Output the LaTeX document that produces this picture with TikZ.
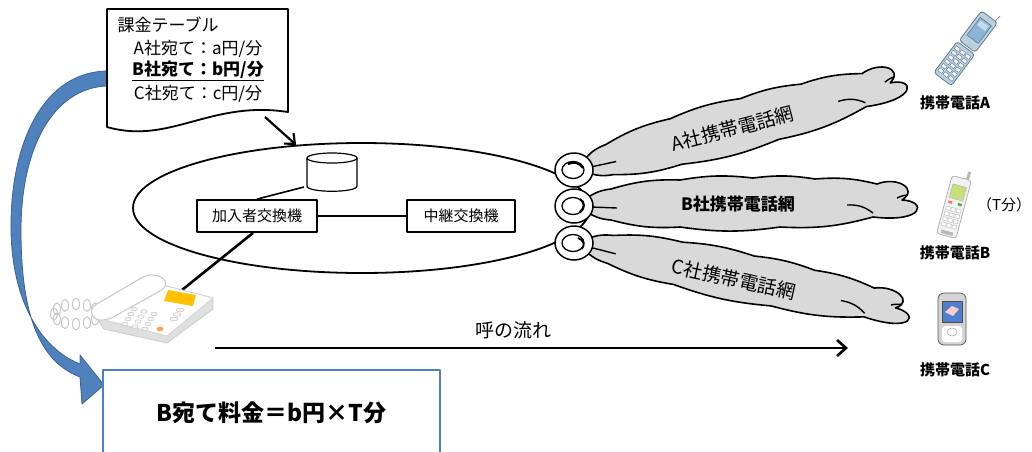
\documentclass[tikz,border=0pt]{standalone}
\usepackage{fontspec}
\setmainfont{Noto Sans CJK JP}
\usetikzlibrary{arrows.meta,shapes.geometric,calc}
\newcommand\fsz[1]{\fontsize{#1}{#1}\selectfont}
\definecolor{cloudgray}{HTML}{D9D9D9}
\definecolor{officeblue}{HTML}{4F81BD}
\definecolor{officeblueedge}{HTML}{3A6496}
\definecolor{screenyellow}{HTML}{FFC000}
\definecolor{screengreen}{HTML}{C8E07C}
\definecolor{flipbody}{HTML}{BCCFDC}
\definecolor{flipedge}{HTML}{5E7A8C}
\definecolor{flipscreen}{HTML}{8DB3D8}
\definecolor{silver}{HTML}{D4D4D4}
\definecolor{nokiascreen}{HTML}{4F7FCF}

% outline of one carrier cloud, local frame: origin at the plug, axis along +x
\newcommand\cloudoutline{%
  (12,-8) to[bend left=14] (36,-17) to[bend left=9] (105,-26)
  to[bend left=8] (178,-28) to[bend left=8] (240,-27) to[bend left=9] (302,-22)
  .. controls (322,-30) and (344,-17) .. (327,-6)
  .. controls (352,-5) and (350,17) .. (298,11)
  to[bend left=9] (205,21) to[bend left=8] (105,21) to[bend left=9] (36,14)
  to[bend left=14] (12,6) -- cycle}
\newcommand\cloudinner{%
  (16,1) -- (42,2)
  (272,-1) to[bend left=20] (298,7)
  (322,-8) to[bend left=10] (333,-11)}

\begin{document}
\begin{tikzpicture}[x=1pt,y=-1pt,line join=round,
  box/.style={draw,line width=1.8pt,fill=white,minimum height=32pt,inner sep=0pt,font=\fsz{15}},
  cloudbody/.style={draw,line width=1.6pt,fill=cloudgray},
  cloudline/.style={line width=1.4pt},
  plug/.style={draw,line width=1.5pt,fill=white},
  plugcore/.style={draw,line width=1.3pt},
  mobilelabel/.style={font=\bfseries\fsz{15}},
  barb/.style={-{Straight Barb[length=8pt,width=14pt,line width=2.2pt]}}]

\useasboundingbox (0,0) rectangle (1032,451);
\clip (0,0) rectangle (1032,451);

% ---------- curved blue arrow from the tariff table to the charge box
\filldraw[fill=officeblue,draw=officeblueedge,line width=0.8pt]
  (107,71) .. controls (45,72) and (10,140) .. (11,230)
  .. controls (12,300) and (40,348) .. (80,364)
  -- (80,355) -- (104,385) -- (82,404) -- (80,377)
  .. controls (35,360) and (21,305) .. (21,230)
  .. controls (21,150) and (52,88) .. (107,86) -- cycle;

% ---------- tariff table (document shape)
\draw[line width=1.8pt,fill=white]
  (107,9) -- (288,9) -- (288,112) .. controls (210,100) and (170,145) .. (107,127) -- cycle;
\node[anchor=west,font=\fsz{17}] (title) at (114,25) {課金テーブル};
\node[font=\fsz{17}] (rateA) at (198,49) {A社宛て：a円/分};
\node[font=\bfseries\fsz{17}] (rateB) at (198,71) {\underline{B社宛て：b円/分}};
\node[font=\fsz{17}] (rateC) at (198,94) {C社宛て：c円/分};
\coordinate (tabletail) at (265,117);

% ---------- carrier network (ellipse) with switches
\node[ellipse,draw,line width=1.8pt,minimum width=457pt,minimum height=130pt,inner sep=0pt] (net) at (361.5,208) {};
\draw[line width=2.2pt,barb] (tabletail) -- (net.136);

% subscriber database
\draw[line width=1.2pt,fill=white] (307,158) -- (307,186) .. controls (307,193) and (357,193) .. (357,186) -- (357,158);
\draw[line width=1.2pt,fill=white] (332,158) ellipse [x radius=25, y radius=5];
\coordinate (db) at (304,187);

\node[box,minimum width=120pt] (sub) at (257,216) {加入者交換機};
\node[box,minimum width=108pt] (relay) at (461,216) {中継交換機};
\draw[line width=1.4pt] (sub) -- (relay);
\draw[line width=1.6pt] (db) -- (sub.north);
\coordinate (deskphone) at (182,290);
\draw[line width=2.6pt] ($(sub.south)+(-4,0)$) -- (deskphone);

% ---------- mobile carrier clouds
\begin{scope}[shift={(575,170)},rotate=14.4]
  \path[cloudbody] \cloudoutline;
  \draw[cloudline] \cloudinner;
  \node[font=\fsz{19},rotate=14.4] (netA) at (163,-1) {A社携帯電話網};
\end{scope}
\begin{scope}[shift={(575,206)}]
  \path[cloudbody] \cloudoutline;
  \draw[cloudline] \cloudinner;
  \node[font=\bfseries\fsz{17}] (netB) at (163,-2) {B社携帯電話網};
\end{scope}
\begin{scope}[shift={(575,243)},rotate=-12.4]
  \path[cloudbody,yscale=0.92] \cloudoutline;
  \draw[cloudline,yscale=0.92] \cloudinner;
  \node[font=\fsz{19},rotate=-12.4] (netC) at (163,1) {C社携帯電話網};
\end{scope}

% ---------- gateway plugs
\node[plug,ellipse,minimum width=38pt,minimum height=34pt,inner sep=0pt] (plugA) at (574,170) {};
\node[plug,ellipse,minimum width=38pt,minimum height=34pt,inner sep=0pt] (plugB) at (574,206) {};
\node[plug,ellipse,minimum width=38pt,minimum height=34pt,inner sep=0pt] (plugC) at (574,243) {};
\draw[plugcore] (573,170) ellipse [x radius=11, y radius=8.5];
\draw[plugcore] (573,206) ellipse [x radius=11, y radius=8.5];
\draw[plugcore] (573,243) ellipse [x radius=11, y radius=8.5];
\draw[line width=2.2pt] (568,164) .. controls (574,161) and (580,163) .. (583,168);
\draw[line width=2.2pt] (580,199) .. controls (585,202) and (585,208) .. (580,212);
\draw[line width=1.8pt] (578,238) .. controls (584,240) and (585,245) .. (582,249);

% ---------- call flow
\coordinate (flowstart) at (215,348);
\coordinate (flowend) at (848,348);
\draw[line width=2.6pt,-{Straight Barb[length=9pt,width=16pt,line width=2.6pt]}] (flowstart) -- (flowend);
\node[font=\fsz{19}] (flowlabel) at (513,330) {呼の流れ};

% ---------- charge result
\node[draw=officeblue,line width=1.5pt,fill=white,minimum width=337pt,minimum height=86pt,
      font=\bfseries\fsz{23}] (charge) at (271.5,413) {B宛て料金＝b円×T分};

% ---------- desk telephone
\begin{scope}[draw=gray!45,line width=1pt]
  \foreach \a in {0,30,...,330}
    \draw ({76+22*cos(\a)},{314+10*sin(\a)}) ellipse [x radius=3.5, y radius=6];
\end{scope}
\filldraw[fill=gray!25,draw=gray!40,line width=0.8pt]
  (97,318) -- (155,283) -- (213,298) -- (213,309) -- (167,343) -- (104,329) -- cycle;
\filldraw[fill=white,draw=gray!35,line width=0.8pt]
  (97,318) -- (155,283) -- (213,298) -- (167,336) -- cycle;
\filldraw[fill=white,draw=gray!45,line width=1pt,rounded corners=6pt]
  (94,320) -- (90,308) -- (148,274) -- (164,277) -- (167,287) -- (108,320) -- cycle;
\fill[screenyellow] (168,290) -- (196,295) -- (193,306) -- (164,301) -- cycle;
\foreach \r in {0,...,3}
  \foreach \c in {0,...,2}
    \filldraw[fill=gray!8,draw=gray!45,line width=0.5pt]
      ({134+\c*10-\r*3},{309+\c*2.5+\r*5}) ellipse [x radius=3.2, y radius=1.8];
\foreach \r in {0,...,2}
  \filldraw[fill=gray!8,draw=gray!45,line width=0.5pt]
    ({180-\r*3},{310+\r*4.5}) ellipse [x radius=4, y radius=1.8];
\fill[orange!70] (160,329) ellipse [x radius=3.5, y radius=2.3];

% ---------- handset A (flip phone)
\begin{scope}[shift={(966,48)},rotate=-37]
  \draw[flipedge,line width=0.6pt] (7,-38) -- (8,-46);
  \filldraw[fill=flipbody,draw=flipedge,line width=0.8pt,rounded corners=3pt] (-10,-39) rectangle (10,-2);
  \filldraw[fill=flipscreen,draw=flipedge,line width=0.6pt] (-7,-33) rectangle (7,-11);
  \fill[white,opacity=0.5] (-5,-31) rectangle (5,-25);
  \filldraw[fill=flipbody,draw=flipedge,line width=0.8pt,rounded corners=3pt] (-11,0) rectangle (11,39);
  \foreach \r in {0,...,5}
    \foreach \c in {-1,0,1}
      \filldraw[fill=white!85!flipbody,draw=flipedge,line width=0.4pt]
        ({\c*6.5-2.5},{4+\r*5.5}) rectangle ({\c*6.5+2.5},{7.5+\r*5.5});
\end{scope}
\node[mobilelabel] (lblA) at (955,103) {携帯電話A};

% ---------- handset B (bar phone)
\begin{scope}[shift={(954,207)},rotate=-15]
  \fill[gray!55] (4.5,-29) rectangle (7.5,-38);
  \filldraw[fill=gray!10,draw=gray!60,line width=0.8pt,rounded corners=3pt] (-10,-30) rectangle (10,30);
  \filldraw[fill=screengreen,draw=gray!60,line width=0.5pt] (-7,-22) rectangle (7,-8);
  \fill[red!55] (-7,-5) rectangle (-3,-2.5);
  \fill[green!55!black!70] (3,-5) rectangle (7,-2.5);
  \foreach \r in {0,...,3}
    \foreach \c in {-1,0,1}
      \filldraw[fill=white,draw=gray!55,line width=0.4pt]
        ({\c*5.5-2.2},{1+\r*5.5}) rectangle ({\c*5.5+2.2},{4.5+\r*5.5});
  \fill[gray!55] (-6,25) rectangle (6,28.5);
\end{scope}
\node[mobilelabel] (lblB) at (955,253) {携帯電話B};
\node[font=\fsz{15}] (lblT) at (1004,205) {（T分）};

% ---------- handset C
\filldraw[fill=silver,draw=gray!70!black,line width=0.8pt,rounded corners=6pt] (938,293) rectangle (966,345);
\filldraw[fill=nokiascreen,draw=gray!60!black,line width=0.5pt] (942,301) rectangle (962,322);
\fill[white!80!red] (945,312) -- (952,306) -- (959,309) -- (953,316) -- cycle;
\fill[white,rounded corners=3pt] (942,326) rectangle (962,342);
\draw[gray!70,line width=0.6pt] (952,332) ellipse [x radius=5, y radius=4];
\node[mobilelabel] (lblC) at (955,370) {携帯電話C};

\end{tikzpicture}
\end{document}
